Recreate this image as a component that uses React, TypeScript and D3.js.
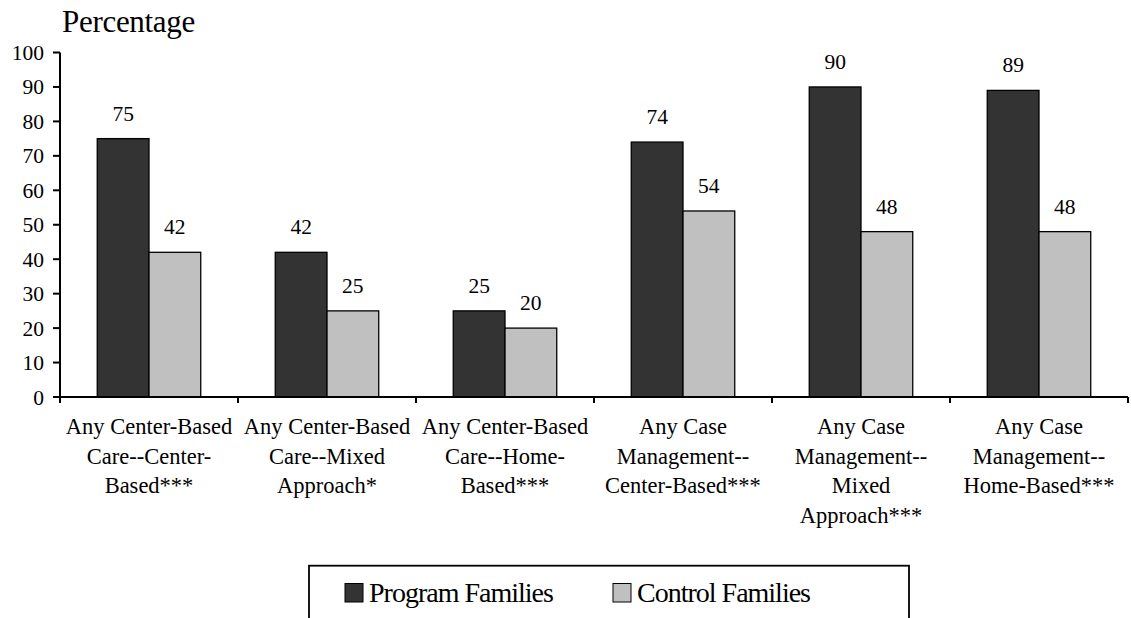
import React from "react";
import * as d3 from "d3";

const categories: string[][] = [
  ["Any Center-Based", "Care--Center-", "Based***"],
  ["Any Center-Based", "Care--Mixed", "Approach*"],
  ["Any Center-Based", "Care--Home-", "Based***"],
  ["Any Case", "Management--", "Center-Based***"],
  ["Any Case", "Management--", "Mixed", "Approach***"],
  ["Any Case", "Management--", "Home-Based***"],
];
const programValues = [75, 42, 25, 74, 90, 89];
const controlValues = [42, 25, 20, 54, 48, 48];
const seriesNames = ["Program Families", "Control Families"];
const seriesColors = ["#333333", "#c0c0c0"];
const yTicks = [0, 10, 20, 30, 40, 50, 60, 70, 80, 90, 100];

const W = 1131;
const H = 618;
const FONT = "Liberation Serif, Times New Roman, DejaVu Serif, serif";

export default function App() {
  const left = 60;
  const right = 1128;
  const top = 52.5;
  const bottom = 397;

  const x0 = d3
    .scaleBand<number>()
    .domain(d3.range(categories.length))
    .range([left, right])
    .paddingInner(0)
    .paddingOuter(0);
  const x1 = d3
    .scaleBand<number>()
    .domain([0, 1])
    .range([0, x0.bandwidth()])
    .paddingOuter(0.72)
    .paddingInner(0);
  const y = d3.scaleLinear().domain([0, 100]).range([bottom, top]);

  const data = [programValues, controlValues];
  const ts = { fontFamily: FONT };

  return (
    <svg
      width={W}
      height={H}
      style={{ position: "absolute", left: 0, top: 0, background: "#fff", fontFamily: FONT }}
    >
      <rect x={0} y={0} width={W} height={H} fill="#fff" />
      <text x={62} y={32} fontSize={31} letterSpacing={-0.3} fill="#000" style={ts}>
        Percentage
      </text>

      {/* bars */}
      {categories.map((_, ci) =>
        data.map((vals, si) => (
          <rect
            key={`b${ci}-${si}`}
            x={(x0(ci) ?? 0) + (x1(si) ?? 0)}
            y={y(vals[ci])}
            width={x1.bandwidth()}
            height={bottom - y(vals[ci])}
            fill={seriesColors[si]}
            stroke="#000"
            strokeWidth={1.3}
          />
        ))
      )}

      {/* value labels */}
      {categories.map((_, ci) =>
        data.map((vals, si) => (
          <text
            key={`v${ci}-${si}`}
            x={(x0(ci) ?? 0) + (x1(si) ?? 0) + x1.bandwidth() / 2}
            y={y(vals[ci]) - 18}
            fontSize={21.5}
            textAnchor="middle"
            fill="#000"
            style={ts}
          >
            {vals[ci]}
          </text>
        ))
      )}

      {/* y axis */}
      <line x1={left} x2={left} y1={top} y2={bottom} stroke="#000" strokeWidth={2} />
      {yTicks.map((t) => (
        <g key={`yt${t}`}>
          <line x1={left - 7} x2={left} y1={y(t)} y2={y(t)} stroke="#000" strokeWidth={2} />
          <text x={44} y={y(t)} dy="0.35em" fontSize={21.5} textAnchor="end" fill="#000" style={ts}>
            {t}
          </text>
        </g>
      ))}

      {/* x axis */}
      <line x1={left} x2={right} y1={bottom} y2={bottom} stroke="#000" strokeWidth={2} />
      {d3.range(categories.length + 1).map((i) => {
        const xx = i < categories.length ? x0(i) ?? 0 : right;
        return (
          <line key={`xt${i}`} x1={xx} x2={xx} y1={bottom} y2={bottom + 6} stroke="#000" strokeWidth={2} />
        );
      })}
      {categories.map((lines, ci) => (
        <text
          key={`c${ci}`}
          x={(x0(ci) ?? 0) + x0.bandwidth() / 2}
          y={434}
          fontSize={22.5}
          textAnchor="middle"
          fill="#000"
          style={ts}
        >
          {lines.map((ln, li) => (
            <tspan key={li} x={(x0(ci) ?? 0) + x0.bandwidth() / 2} y={434 + li * 29.7}>
              {ln}
            </tspan>
          ))}
        </text>
      ))}

      {/* legend */}
      <rect x={309} y={565.7} width={600} height={80} fill="#fff" stroke="#000" strokeWidth={1.8} />
      {seriesNames.map((name, si) => {
        const lx = si === 0 ? 345 : 613;
        return (
          <g key={`l${si}`}>
            <rect x={lx} y={583.5} width={18} height={18.5} fill={seriesColors[si]} stroke="#000" strokeWidth={1} />
            <text x={lx + 24} y={602.3} fontSize={28} letterSpacing={-1} fill="#000" style={ts}>
              {name}
            </text>
          </g>
        );
      })}
    </svg>
  );
}
